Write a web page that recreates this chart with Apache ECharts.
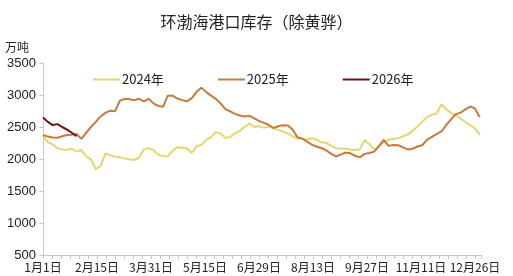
<!DOCTYPE html>
<html>
<head>
<meta charset="utf-8">
<script src="https://cdn.jsdelivr.net/npm/echarts@6/dist/echarts.min.js"></script>
<style>
html,body{margin:0;padding:0;background:#fff;}
#c{width:513px;height:276px;}
</style>
</head>
<body>
<div id="c"></div>
<script>
// Day-of-year sample positions (day 0 = 1月1日)
const days = [0,4,8,12,16,20,24,28,32,36,40,44,48,52,56,60,64,68,72,76,80,84,88,92,96,100,
  104,108,112,116,120,124,128,132,136,140,144,148,152,156,160,164,168,172,176,180,184,188,192,196,
  200,204,208,212,216,220,224,228,232,236,240,244,248,252,256,260,264,268,272,276,280,284,288,292,
  296,300,304,308,312,316,320,324,328,332,336,340,344,348,352,356,360,364];

const tickLabels = ['1月1日','2月15日','3月31日','5月15日','6月29日','8月13日','9月27日','11月11日','12月26日'];
const seriesNames = ['2024年','2025年','2026年'];

const v2024 = [2360,2260,2230,2170,2150,2145,2160,2115,2140,2040,1990,1840,1890,2085,2060,2036,
  2030,2010,1995,1985,2020,2150,2170,2140,2065,2045,2040,2130,2185,2175,2165,2095,2200,2220,2300,
  2340,2420,2400,2330,2345,2400,2440,2500,2555,2500,2510,2490,2505,2485,2455,2430,2400,2355,2318,
  2312,2305,2325,2302,2260,2250,2210,2170,2160,2165,2150,2140,2150,2295,2230,2150,2200,2260,2300,
  2315,2325,2355,2385,2440,2505,2580,2655,2690,2712,2855,2780,2720,2680,2630,2575,2530,2480,2380];

const v2025 = [2375,2350,2335,2333,2355,2375,2380,2390,2315,2410,2500,2580,2665,2720,2755,2745,
  2910,2940,2935,2920,2940,2900,2940,2869,2830,2815,2990,2990,2945,2920,2900,2950,3050,3115,3045,
  2990,2940,2870,2780,2745,2705,2680,2665,2675,2635,2595,2565,2535,2485,2512,2526,2522,2460,2340,
  2322,2270,2225,2192,2172,2135,2085,2040,2068,2100,2090,2050,2025,2080,2095,2115,2200,2300,2205,
  2219,2215,2182,2150,2160,2195,2215,2300,2345,2390,2430,2530,2620,2700,2725,2775,2820,2790,2650];

const v2026 = [2650,2580,2530,2545,2500,2460,2410,2355];

const colors = ['#E6D66E','#C8793C','#6E1212'];

function pairs(vals){ return vals.map((v,i)=>[days[i], v]); }

const chart = echarts.init(document.getElementById('c'), null, {renderer:'canvas'});
const txt = '#222';
chart.setOption({
  animation:false,
  backgroundColor:'#fff',
  title:{
    text:'环渤海港口库存（除黄骅）',
    left:'center', top:9,
    textStyle:{fontSize:16, fontWeight:'normal', color:txt, fontFamily:'Noto Sans CJK SC'}
  },
  legend:{
    data:seriesNames.map(n=>({name:n, icon:'rect'})),
    left:93, top:73, padding:0,
    itemWidth:27, itemHeight:2, itemGap:54,
    textStyle:{fontSize:13, color:txt, fontFamily:'Noto Sans CJK SC', padding:[0,0,0,-3]}
  },
  grid:{left:43, right:32, top:63, bottom:21, containLabel:false},
  xAxis:{
    type:'value', min:0, max:365, interval:45,
    axisLine:{show:true, lineStyle:{color:'#c8c8c8', width:1}},
    axisTick:{show:true, length:4, inside:false, lineStyle:{color:'#c8c8c8'}},
    minorTick:{show:true, splitNumber:6, length:4, lineStyle:{color:'#c8c8c8'}},
    splitLine:{show:false},
    axisLabel:{
      color:txt, fontSize:12, margin:6, fontFamily:'Noto Sans CJK SC',
      showMaxLabel:false,
      formatter:function(v){ const i=Math.round(v/45); return (v%45===0 && tickLabels[i])?tickLabels[i]:''; }
    }
  },
  yAxis:{
    type:'value', min:500, max:3500, interval:500,
    name:'万吨', nameLocation:'end', nameGap:10,
    nameTextStyle:{color:txt, fontSize:12, align:'left', padding:[0,0,0,-38], fontFamily:'Noto Sans CJK SC'},
    axisLine:{show:true, lineStyle:{color:'#c8c8c8', width:1}},
    axisTick:{show:true, length:4, lineStyle:{color:'#c8c8c8'}},
    splitLine:{show:false},
    axisLabel:{color:txt, fontSize:13, margin:7, fontFamily:'Liberation Sans', formatter:function(v){return String(v);}}
  },
  series:[
    {name:seriesNames[0], type:'line', data:pairs(v2024), showSymbol:false, lineStyle:{width:2, color:colors[0]}, itemStyle:{color:colors[0]}},
    {name:seriesNames[1], type:'line', data:pairs(v2025), showSymbol:false, lineStyle:{width:2, color:colors[1]}, itemStyle:{color:colors[1]}},
    {name:seriesNames[2], type:'line', data:pairs(v2026), showSymbol:false, lineStyle:{width:2, color:colors[2]}, itemStyle:{color:colors[2]}}
  ]
});
</script>
</body>
</html>
